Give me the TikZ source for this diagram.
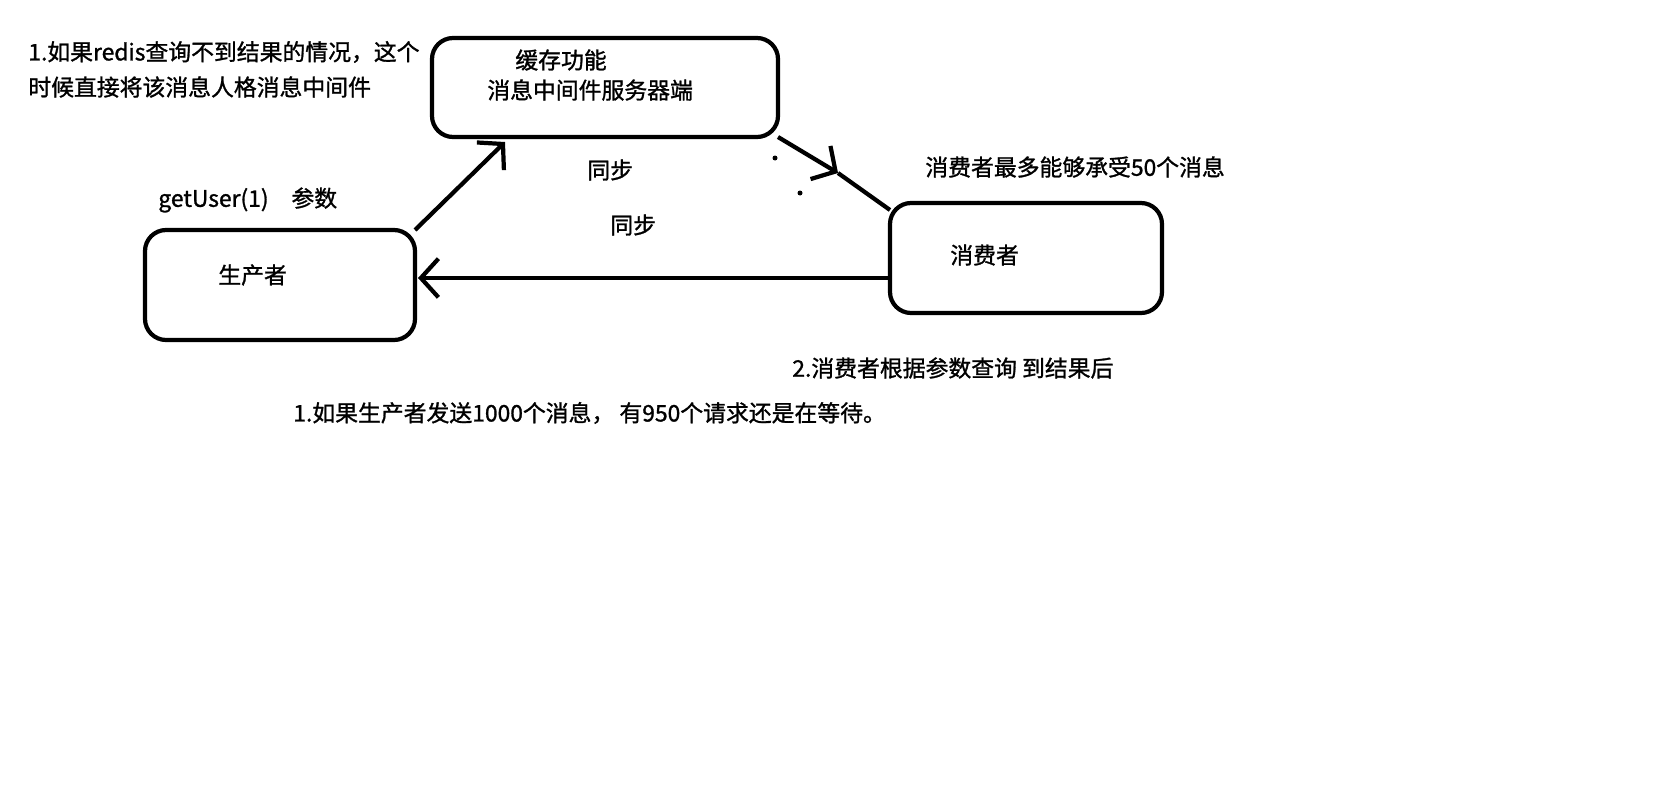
\documentclass[tikz,border=0pt]{standalone}
\usepackage{fontspec}
\setmainfont{Liberation Serif}
\newfontfamily\cjk[FakeBold=1.2]{Noto Sans CJK SC}
\usetikzlibrary{arrows.meta}
\tikzstyle{box}=[draw,line width=2.4pt,rounded corners=12pt]
\tikzstyle{txt}=[anchor=west,inner sep=0pt,font=\cjk\fontsize{13}{15}\selectfont]
\tikzstyle{flow}=[line width=2.4pt,-{Straight Barb[length=10pt,width=22pt,line width=2.4pt]}]

\begin{document}
\begin{tikzpicture}[x=0.02cm,y=-0.02cm]
		\useasboundingbox (0,0) rectangle (1653,805);
		\draw[box] (432,38) rectangle (778,137);
		\draw[box] (145,230) rectangle (415,340);
		\draw[box] (890,203) rectangle (1162,313);
		\coordinate (P) at (415,230);
		\coordinate (S) at (505,142);
		\coordinate (C) at (890,278);
		\coordinate (Q) at (418,278);
		\coordinate (SR) at (778,137);
		\coordinate (CT) at (890,210);
		\coordinate (M) at (838,173);
		\draw[flow] (P) -- (S);
		\draw[flow] (C) -- (Q);
		\draw[flow] (SR) -- (M);
		\draw[line width=2.4pt] (M) -- (CT);
		\fill (775,158) circle (2.5);
		\fill (800,193) circle (2.5);
		\node[txt] (t1) at (28,52) {1.如果redis查询不到结果的情况，这个};
		\node[txt] (t2) at (28,87) {时候直接将该消息人格消息中间件};
		\node[txt] (t3) at (515,60) {缓存功能};
		\node[txt] (t4) at (487,90) {消息中间件服务器端};
		\node[txt] (t5) at (587,170) {同步};
		\node[txt] (t6) at (610,225) {同步};
		\node[txt] (t7) at (158,200) {getUser(1)\quad 参数};
		\node[txt] (t8) at (218,275) {生产者};
		\node[txt] (t9) at (925,167) {消费者最多能够承受50个消息};
		\node[txt] (t10) at (950,255) {消费者};
		\node[txt] (t11) at (792,368) {2.消费者根据参数查询 到结果后};
		\node[txt] (t12) at (293,413) {1.如果生产者发送1000个消息， 有950个请求还是在等待。};
\end{tikzpicture}
\end{document}
